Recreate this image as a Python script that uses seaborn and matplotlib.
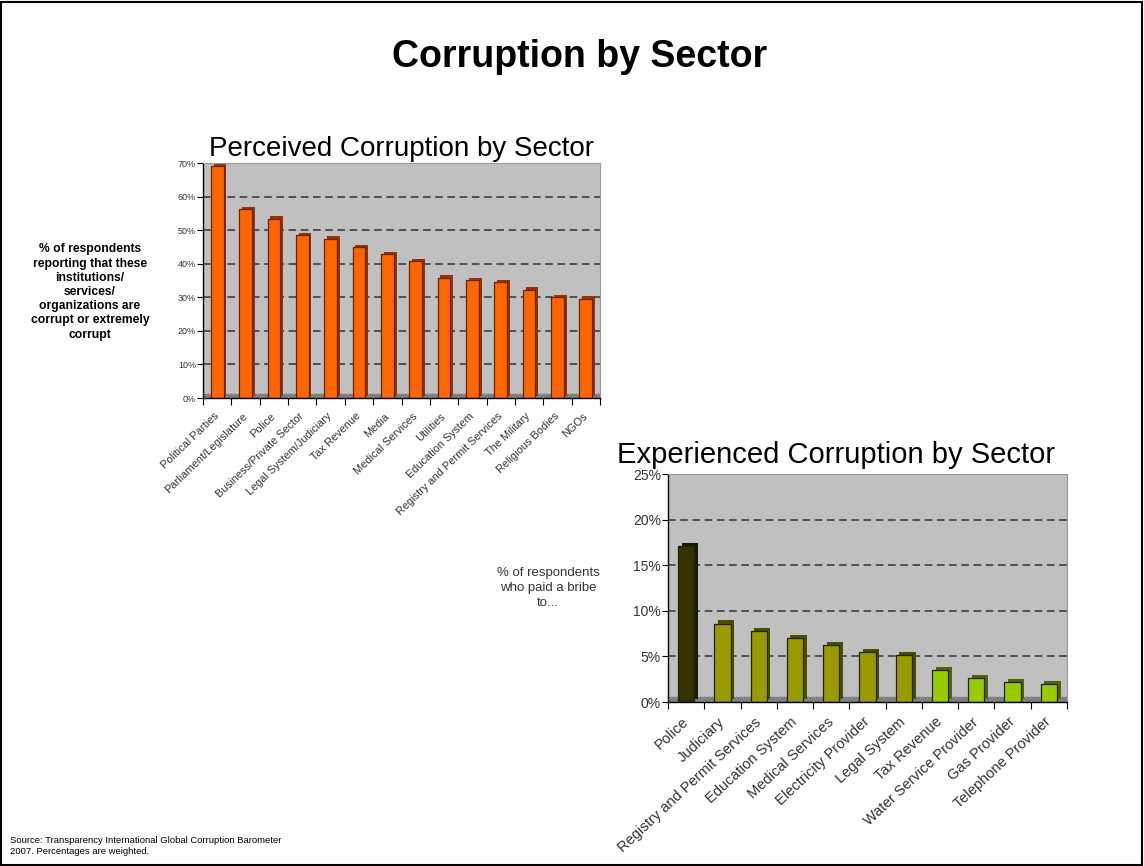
import matplotlib
matplotlib.use("Agg")
import matplotlib.pyplot as plt
import seaborn as sns
from matplotlib.patches import Rectangle
from matplotlib.ticker import FixedLocator, PercentFormatter

sns.set_theme(style="white")
plt.rcParams['font.family'] = ['Liberation Sans', 'DejaVu Sans']
plt.rcParams['text.color'] = 'black'

# ---------------- data ----------------
perceived_sectors = ["Political Parties", "Parliament/Legislature", "Police",
                     "Business/Private Sector", "Legal System/Judiciary", "Tax Revenue",
                     "Media", "Medical Services", "Utilities", "Education System",
                     "Registry and Permit Services", "The Military", "Religious Bodies", "NGOs"]
perceived_values = [69.2, 56.2, 53.4, 48.5, 47.5, 45.0, 42.9, 40.8, 35.8, 35.1, 34.5, 32.3, 30.1, 29.6]

experienced_sectors = ["Police", "Judiciary", "Registry and Permit Services", "Education System",
                       "Medical Services", "Electricity Provider", "Legal System", "Tax Revenue",
                       "Water Service Provider", "Gas Provider", "Telephone Provider"]
experienced_values = [17.1, 8.6, 7.8, 7.0, 6.2, 5.5, 5.1, 3.5, 2.6, 2.2, 2.0]
experienced_colors = ["#333300"] + ["#999900"] * 6 + ["#99CC00"] * 4
experienced_side = ["#1a1a00"] + ["#4d4d00"] * 6 + ["#4d6600"] * 4

W, H = 1144, 866
fig = plt.figure(figsize=(W / 100, H / 100), dpi=100)
fig.patch.set_facecolor("white")

# frame around the slide
fig.patches.append(Rectangle((0.001, 0.001), 0.997, 0.997, transform=fig.transFigure,
                             fill=False, edgecolor="black", linewidth=1.5))

fig.text(0.507, 1 - 57 / H, "Corruption by Sector", ha="center", va="center",
         fontsize=27, fontweight="bold", color="black")


def add_depth(ax, values, side_colors, dx, dy, width):
    # darker shifted copy behind each bar -> pseudo 3-D side/top faces
    xs = [i + dx for i in range(len(values))]
    ax.bar(xs, values, width=width, bottom=dy, color=side_colors,
           edgecolor="none", zorder=1.5)


def style_axes(ax, n, ymax, step, tick_fs, label_fs, rot, floor, pad):
    ax.set_facecolor("#C0C0C0")
    ax.set_xlim(-0.5, n - 0.5)
    ax.set_ylim(0, ymax)
    ax.axhspan(0, floor, color="#808080", zorder=1)
    ax.set_yticks(range(0, ymax + 1, step))
    ax.yaxis.set_major_formatter(PercentFormatter(decimals=0))
    for y in range(step, ymax, step):
        ax.axhline(y, color="#333333", linestyle=(0, (5, 3)), linewidth=1.1, zorder=0.5)
    for s in ["top", "right"]:
        ax.spines[s].set_color("#999999")
        ax.spines[s].set_linewidth(0.8)
    for s in ["left", "bottom"]:
        ax.spines[s].set_color("black")
        ax.spines[s].set_linewidth(1.0)
    ax.tick_params(axis="y", left=True, length=4, width=0.8, color="black",
                   labelsize=tick_fs, labelcolor="#333333", pad=1)
    ax.xaxis.set_minor_locator(FixedLocator([i - 0.5 for i in range(n + 1)]))
    ax.tick_params(axis="x", which="major", bottom=False, length=0, labelsize=label_fs,
                   labelcolor="#333333", pad=pad)
    ax.tick_params(axis="x", which="minor", bottom=True, length=5, width=0.8, color="black")
    for lab in ax.get_xticklabels():
        lab.set_rotation(rot)
        lab.set_ha("right")
        lab.set_va("center")
        lab.set_rotation_mode("anchor")
    ax.set_xlabel("")
    ax.set_ylabel("")


# ---------------- perceived ----------------
ax1 = fig.add_axes([203 / W, 1 - 398 / H, 397 / W, 235 / H])
add_depth(ax1, perceived_values, ["#993300"] * len(perceived_values), 0.1, 0.7, 0.45)
sns.barplot(x=perceived_sectors, y=perceived_values, hue=perceived_sectors,
            palette=["#FF6600"] * len(perceived_sectors), legend=False,
            width=0.45, edgecolor="#662200", linewidth=0.9, saturation=1, ax=ax1, zorder=2)
style_axes(ax1, len(perceived_sectors), 70, 10, 6.5, 7.9, 44, 1.2, 12)
ax1.set_title("Perceived Corruption by Sector", fontsize=20, pad=5, color="black")
fig.text(90 / W, 1 - 292 / H,
         "% of respondents\nreporting that these\ninstitutions/\nservices/\norganizations are\ncorrupt or extremely\ncorrupt",
         ha="center", va="center", fontsize=8.7, fontweight="bold", linespacing=1.25,
         color="black")

# ---------------- experienced ----------------
ax2 = fig.add_axes([668 / W, 1 - 702 / H, 399 / W, 228 / H])
add_depth(ax2, experienced_values, experienced_side, 0.1, 0.35, 0.45)
sns.barplot(x=experienced_sectors, y=experienced_values, hue=experienced_sectors,
            palette=experienced_colors, legend=False,
            width=0.45, edgecolor="#222200", linewidth=0.9, saturation=1, ax=ax2, zorder=2)
style_axes(ax2, len(experienced_sectors), 25, 5, 10, 10.5, 43, 0.6, 13)
ax2.set_title("Experienced Corruption by Sector", fontsize=21, pad=8, color="black",
              x=0.42)
fig.text(548 / W, 1 - 588 / H, "% of respondents\nwho paid a bribe\nto...",
         ha="center", va="center", fontsize=9.5, color="#333333", linespacing=1.3)

fig.text(10 / W, 1 - 846 / H,
         "Source: Transparency International Global Corruption Barometer\n2007. Percentages are weighted.",
         ha="left", va="center", fontsize=6.8, linespacing=1.3, color="black")

fig.savefig("out.png", dpi=100)
